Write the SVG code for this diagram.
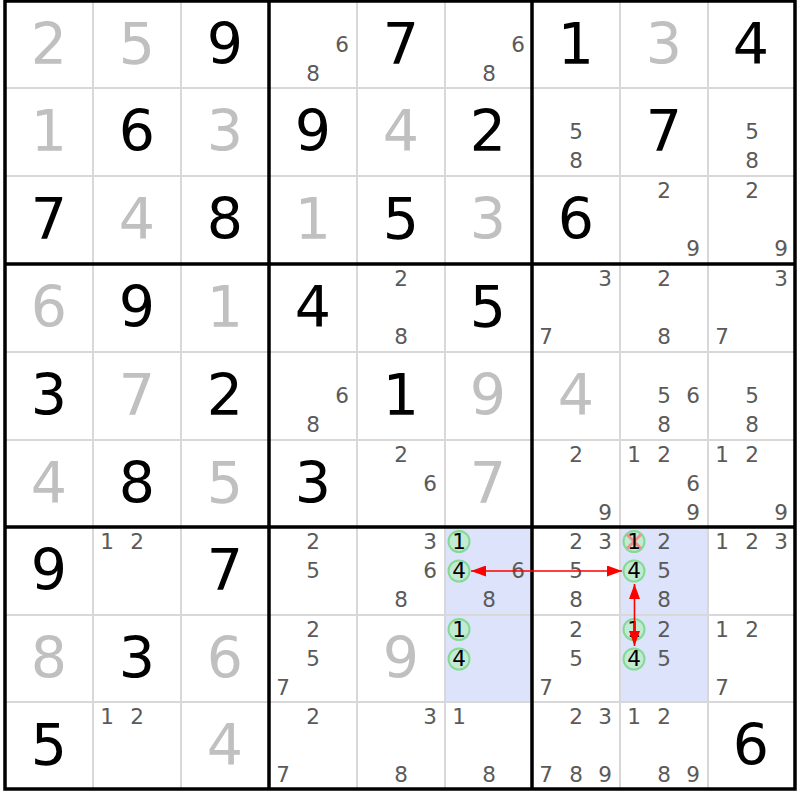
<svg xmlns="http://www.w3.org/2000/svg" width="800" height="800" viewBox="0 0 800 800">
<style>
text{font-family:"DejaVu Sans","Liberation Sans",sans-serif;text-anchor:middle}
.g{font-size:57px;fill:#000}
.s{font-size:57px;fill:#c0c0c0}
.c{font-size:21.5px;fill:#5a5a5a}
.k{font-size:21.5px;fill:#000}
.thin{stroke:#d8d8d8;stroke-width:2}
.thick{stroke:#000;stroke-width:3.5}
.hl{fill:#dce3fb}
.ring{fill:#c3ead3;stroke:#84da94;stroke-width:2}
.x{stroke:#f28f8f;stroke-width:3}
.arr{stroke:#f00;stroke-width:1.6;fill:none;marker-start:url(#ah);marker-end:url(#ah)}
</style>
<defs>
<marker id="ah" markerUnits="userSpaceOnUse" markerWidth="15" markerHeight="11" refX="15" refY="5.5" orient="auto-start-reverse" viewBox="0 0 15 11"><path d="M0,0 L15,5.5 L0,11 z" fill="#f00"/></marker>
</defs>
<rect x="0" y="0" width="800" height="800" fill="#fff"/>
<g id="highlights">
<rect class="hl" x="445" y="527" width="87" height="175"/>
<rect class="hl" x="620" y="527" width="88" height="175"/>
</g>
<g id="grid">
<path class="thin" d="M93,1V789M181,1V789M357,1V789M445,1V789M620,1V789M708,1V789M5,88H795M5,176H795M5,352H795M5,440H795M5,615H795M5,702H795"/>
<path class="thick" d="M269,1V789M532,1V789M5,264H795M5,527H795"/>
<rect class="thick" x="5" y="1" width="790" height="788" fill="none"/>
</g>
<g id="r1c1"><text class="s" x="49" y="64">2</text></g>
<g id="r1c2"><text class="s" x="137" y="64">5</text></g>
<g id="r1c3"><text class="g" x="225" y="64">9</text></g>
<g id="r1c4"><text class="c" x="342" y="52">6</text><text class="c" x="313" y="81">8</text></g>
<g id="r1c5"><text class="g" x="401" y="64">7</text></g>
<g id="r1c6"><text class="c" x="518" y="52">6</text><text class="c" x="489" y="81">8</text></g>
<g id="r1c7"><text class="g" x="576" y="64">1</text></g>
<g id="r1c8"><text class="s" x="664" y="64">3</text></g>
<g id="r1c9"><text class="g" x="751" y="64">4</text></g>
<g id="r2c1"><text class="s" x="49" y="151">1</text></g>
<g id="r2c2"><text class="g" x="137" y="151">6</text></g>
<g id="r2c3"><text class="s" x="225" y="151">3</text></g>
<g id="r2c4"><text class="g" x="313" y="151">9</text></g>
<g id="r2c5"><text class="s" x="401" y="151">4</text></g>
<g id="r2c6"><text class="g" x="488" y="151">2</text></g>
<g id="r2c7"><text class="c" x="576" y="139">5</text><text class="c" x="576" y="168">8</text></g>
<g id="r2c8"><text class="g" x="664" y="151">7</text></g>
<g id="r2c9"><text class="c" x="752" y="139">5</text><text class="c" x="752" y="168">8</text></g>
<g id="r3c1"><text class="g" x="49" y="239">7</text></g>
<g id="r3c2"><text class="s" x="137" y="239">4</text></g>
<g id="r3c3"><text class="g" x="225" y="239">8</text></g>
<g id="r3c4"><text class="s" x="313" y="239">1</text></g>
<g id="r3c5"><text class="g" x="401" y="239">5</text></g>
<g id="r3c6"><text class="s" x="488" y="239">3</text></g>
<g id="r3c7"><text class="g" x="576" y="239">6</text></g>
<g id="r3c8"><text class="c" x="664" y="198">2</text><text class="c" x="693" y="256">9</text></g>
<g id="r3c9"><text class="c" x="752" y="198">2</text><text class="c" x="781" y="256">9</text></g>
<g id="r4c1"><text class="s" x="49" y="327">6</text></g>
<g id="r4c2"><text class="g" x="137" y="327">9</text></g>
<g id="r4c3"><text class="s" x="225" y="327">1</text></g>
<g id="r4c4"><text class="g" x="313" y="327">4</text></g>
<g id="r4c5"><text class="c" x="401" y="286">2</text><text class="c" x="401" y="344">8</text></g>
<g id="r4c6"><text class="g" x="488" y="327">5</text></g>
<g id="r4c7"><text class="c" x="605" y="286">3</text><text class="c" x="546" y="344">7</text></g>
<g id="r4c8"><text class="c" x="664" y="286">2</text><text class="c" x="664" y="344">8</text></g>
<g id="r4c9"><text class="c" x="781" y="286">3</text><text class="c" x="722" y="344">7</text></g>
<g id="r5c1"><text class="g" x="49" y="415">3</text></g>
<g id="r5c2"><text class="s" x="137" y="415">7</text></g>
<g id="r5c3"><text class="g" x="225" y="415">2</text></g>
<g id="r5c4"><text class="c" x="342" y="403">6</text><text class="c" x="313" y="432">8</text></g>
<g id="r5c5"><text class="g" x="401" y="415">1</text></g>
<g id="r5c6"><text class="s" x="488" y="415">9</text></g>
<g id="r5c7"><text class="s" x="576" y="415">4</text></g>
<g id="r5c8"><text class="c" x="664" y="403">5</text><text class="c" x="693" y="403">6</text><text class="c" x="664" y="432">8</text></g>
<g id="r5c9"><text class="c" x="752" y="403">5</text><text class="c" x="752" y="432">8</text></g>
<g id="r6c1"><text class="s" x="49" y="503">4</text></g>
<g id="r6c2"><text class="g" x="137" y="503">8</text></g>
<g id="r6c3"><text class="s" x="225" y="503">5</text></g>
<g id="r6c4"><text class="g" x="313" y="503">3</text></g>
<g id="r6c5"><text class="c" x="401" y="462">2</text><text class="c" x="430" y="491">6</text></g>
<g id="r6c6"><text class="s" x="488" y="503">7</text></g>
<g id="r6c7"><text class="c" x="576" y="462">2</text><text class="c" x="605" y="520">9</text></g>
<g id="r6c8"><text class="c" x="634" y="462">1</text><text class="c" x="664" y="462">2</text><text class="c" x="693" y="491">6</text><text class="c" x="693" y="520">9</text></g>
<g id="r6c9"><text class="c" x="722" y="462">1</text><text class="c" x="752" y="462">2</text><text class="c" x="781" y="520">9</text></g>
<g id="r7c1"><text class="g" x="49" y="590">9</text></g>
<g id="r7c2"><text class="c" x="107" y="549">1</text><text class="c" x="137" y="549">2</text></g>
<g id="r7c3"><text class="g" x="225" y="590">7</text></g>
<g id="r7c4"><text class="c" x="313" y="549">2</text><text class="c" x="313" y="578">5</text></g>
<g id="r7c5"><text class="c" x="430" y="549">3</text><text class="c" x="430" y="578">6</text><text class="c" x="401" y="607">8</text></g>
<g id="r7c6"><circle class="ring" cx="459" cy="541.5" r="10.5"/><circle class="ring" cx="459" cy="571" r="10.5"/><text class="k" x="459" y="549">1</text><text class="k" x="459" y="578">4</text><text class="c" x="518" y="578">6</text><text class="c" x="489" y="607">8</text></g>
<g id="r7c7"><text class="c" x="576" y="549">2</text><text class="c" x="605" y="549">3</text><text class="c" x="576" y="578">5</text><text class="c" x="576" y="607">8</text></g>
<g id="r7c8"><circle class="ring" cx="634" cy="541.5" r="10.5"/><circle class="ring" cx="634" cy="571" r="10.5"/><path class="x" d="M627,534.5L641,548.5M641,534.5L627,548.5"/><text class="k" x="634" y="549">1</text><text class="k" x="634" y="578">4</text><text class="c" x="664" y="549">2</text><text class="c" x="664" y="578">5</text><text class="c" x="664" y="607">8</text></g>
<g id="r7c9"><text class="c" x="722" y="549">1</text><text class="c" x="752" y="549">2</text><text class="c" x="781" y="549">3</text></g>
<g id="r8c1"><text class="s" x="49" y="678">8</text></g>
<g id="r8c2"><text class="g" x="137" y="678">3</text></g>
<g id="r8c3"><text class="s" x="225" y="678">6</text></g>
<g id="r8c4"><text class="c" x="313" y="637">2</text><text class="c" x="313" y="666">5</text><text class="c" x="283" y="695">7</text></g>
<g id="r8c5"><text class="s" x="401" y="678">9</text></g>
<g id="r8c6"><circle class="ring" cx="459" cy="629.5" r="10.5"/><circle class="ring" cx="459" cy="659" r="10.5"/><text class="k" x="459" y="637">1</text><text class="k" x="459" y="666">4</text></g>
<g id="r8c7"><text class="c" x="576" y="637">2</text><text class="c" x="576" y="666">5</text><text class="c" x="546" y="695">7</text></g>
<g id="r8c8"><circle class="ring" cx="634" cy="629.5" r="10.5"/><circle class="ring" cx="634" cy="659" r="10.5"/><text class="k" x="634" y="637">1</text><text class="k" x="634" y="666">4</text><text class="c" x="664" y="637">2</text><text class="c" x="664" y="666">5</text></g>
<g id="r8c9"><text class="c" x="722" y="637">1</text><text class="c" x="752" y="637">2</text><text class="c" x="722" y="695">7</text></g>
<g id="r9c1"><text class="g" x="49" y="765">5</text></g>
<g id="r9c2"><text class="c" x="107" y="724">1</text><text class="c" x="137" y="724">2</text></g>
<g id="r9c3"><text class="s" x="225" y="765">4</text></g>
<g id="r9c4"><text class="c" x="313" y="724">2</text><text class="c" x="283" y="782">7</text></g>
<g id="r9c5"><text class="c" x="430" y="724">3</text><text class="c" x="401" y="782">8</text></g>
<g id="r9c6"><text class="c" x="459" y="724">1</text><text class="c" x="489" y="782">8</text></g>
<g id="r9c7"><text class="c" x="576" y="724">2</text><text class="c" x="605" y="724">3</text><text class="c" x="546" y="782">7</text><text class="c" x="576" y="782">8</text><text class="c" x="605" y="782">9</text></g>
<g id="r9c8"><text class="c" x="634" y="724">1</text><text class="c" x="664" y="724">2</text><text class="c" x="664" y="782">8</text><text class="c" x="693" y="782">9</text></g>
<g id="r9c9"><text class="g" x="751" y="765">6</text></g>
<g id="connectors">
<line class="arr" x1="471" y1="571" x2="622" y2="571"/>
<line class="arr" x1="634.5" y1="584" x2="634.5" y2="646"/>
</g>
</svg>
